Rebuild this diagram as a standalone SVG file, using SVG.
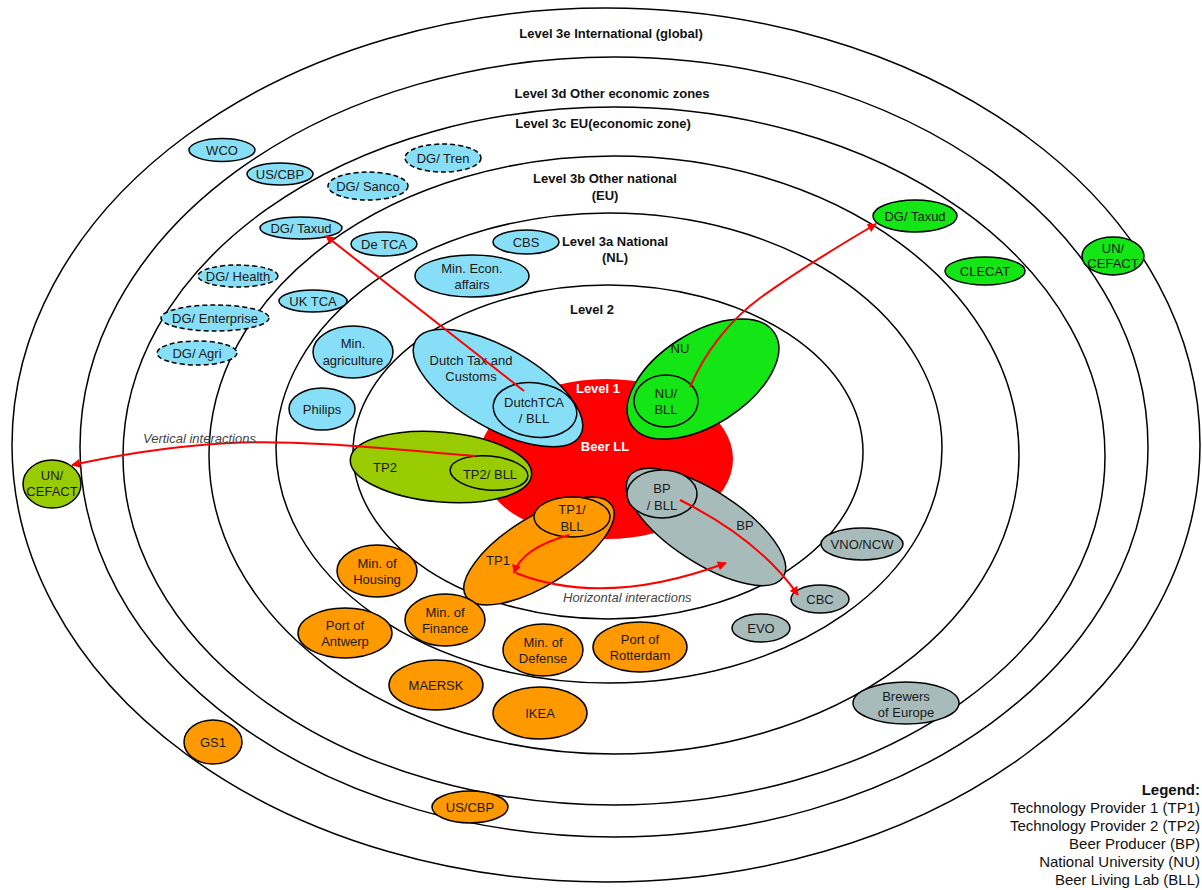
<svg xmlns="http://www.w3.org/2000/svg" width="1202" height="890" viewBox="0 0 1202 890">
<style>
.ring{fill:none;stroke:#000;stroke-width:1.5}
.n{stroke:#000;stroke-width:1.5}
.d{stroke-dasharray:5,3}
.blue{fill:#87DEF7}
.green{fill:#14E514}
.yg{fill:#99CC00}
.org{fill:#FF9900}
.grey{fill:#A7BBBB}
.red{fill:#FF0000}
text{font-family:"Liberation Sans",Arial,sans-serif;font-size:13px;fill:#1a1a1a;text-anchor:middle;dominant-baseline:central}
.lvl{font-weight:bold;font-size:13px;fill:#111}
.wl{font-weight:bold;fill:#fff}
.it{font-style:italic;fill:#444;text-anchor:start}
.leg{font-size:15px;text-anchor:end;dominant-baseline:auto;fill:#111}
.conn{fill:none;stroke:#FF0000;stroke-width:2}
</style>
<defs>
<marker id="ah" viewBox="0 0 10 10" refX="9" refY="5" markerWidth="10" markerHeight="9" markerUnits="userSpaceOnUse" orient="auto">
<path d="M0,0 L10,5 L0,10 z" fill="#FF0000"/>
</marker>
</defs>
<rect width="1202" height="890" fill="#fff"/>
<g id="rings">
<ellipse class="ring" cx="606" cy="445" rx="594" ry="437"/>
<ellipse class="ring" cx="614" cy="447" rx="534" ry="390"/>
<ellipse class="ring" cx="614" cy="456" rx="491" ry="349"/>
<ellipse class="ring" cx="614" cy="455" rx="405" ry="299"/>
<ellipse class="ring" cx="609" cy="448" rx="333" ry="235"/>
<ellipse class="ring" cx="608" cy="452" rx="255" ry="167"/>
</g>
<g id="level-labels">
<text class="lvl" x="611" y="33">Level 3e International (global)</text>
<text class="lvl" x="612" y="93">Level 3d Other economic zones</text>
<text class="lvl" x="603" y="123">Level 3c EU(economic zone)</text>
<text class="lvl" x="605" y="178">Level 3b Other national</text>
<text class="lvl" x="605" y="195">(EU)</text>
<text class="lvl" x="615" y="241">Level 3a National</text>
<text class="lvl" x="615" y="257">(NL)</text>
<text class="lvl" x="592" y="309">Level 2</text>
</g>
<g id="beer-ll">
<ellipse class="red" cx="606" cy="459" rx="127" ry="80"/>
<text class="wl" x="598" y="388">Level 1</text>
<text class="wl" x="605" y="446">Beer LL</text>
</g>
<g id="dutch-tax">
<ellipse class="n blue" cx="498" cy="388" rx="95" ry="40" transform="rotate(30 498 388)"/>
<text x="471" y="360">Dutch Tax and</text>
<text x="471" y="376">Customs</text>
</g>
<g id="dutchtca-bll">
<ellipse class="n blue" cx="535" cy="410" rx="42" ry="27" transform="rotate(8 535 410)"/>
<text x="534" y="402">DutchTCA</text>
<text x="534" y="418">/ BLL</text>
</g>
<g id="nu">
<ellipse class="n green" cx="703" cy="379" rx="85" ry="46" transform="rotate(-32.6 703 379)"/>
<text x="680" y="348">NU</text>
</g>
<g id="nu-bll">
<ellipse class="n green" cx="666" cy="401" rx="32" ry="26"/>
<text x="666" y="393">NU/</text>
<text x="666" y="409">BLL</text>
</g>
<g id="tp2">
<ellipse class="n yg" cx="441" cy="467" rx="91" ry="35" transform="rotate(5 441 467)"/>
<text x="385" y="467">TP2</text>
</g>
<g id="tp2-bll">
<ellipse class="n yg" cx="489" cy="473" rx="39" ry="17" transform="rotate(5 489 473)"/>
<text x="490" y="474">TP2/ BLL</text>
</g>
<g id="bp">
<ellipse class="n grey" cx="706" cy="527" rx="92" ry="36" transform="rotate(33 706 527)"/>
<text x="745" y="525">BP</text>
</g>
<g id="bp-bll">
<ellipse class="n grey" cx="662" cy="494" rx="35" ry="24"/>
<text x="662" y="488">BP</text>
<text x="662" y="505">/ BLL</text>
</g>
<g id="tp1">
<ellipse class="n org" cx="539" cy="551" rx="86" ry="34" transform="rotate(-32 539 551)"/>
<text x="498" y="560">TP1</text>
</g>
<g id="tp1-bll">
<ellipse class="n org" cx="572" cy="517" rx="38" ry="20"/>
<text x="572" y="509">TP1/</text>
<text x="572" y="526">BLL</text>
</g>
<g id="wco"><ellipse class="n blue" cx="222" cy="150" rx="33" ry="11.5"/><text x="222" y="150">WCO</text></g>
<g id="us-cbp-blue"><ellipse class="n blue" cx="280" cy="174" rx="33" ry="11"/><text x="280" y="174">US/CBP</text></g>
<g id="dg-tren"><ellipse class="n d blue" cx="443" cy="158" rx="38" ry="14"/><text x="443" y="158">DG/ Tren</text></g>
<g id="dg-sanco"><ellipse class="n d blue" cx="368" cy="186" rx="40" ry="14"/><text x="368" y="186">DG/ Sanco</text></g>
<g id="dg-taxud-blue"><ellipse class="n blue" cx="301" cy="228" rx="41" ry="11"/><text x="301" y="228">DG/ Taxud</text></g>
<g id="de-tca"><ellipse class="n blue" cx="384" cy="244" rx="33" ry="12"/><text x="384" y="244">De TCA</text></g>
<g id="cbs"><ellipse class="n blue" cx="526" cy="242" rx="33" ry="12"/><text x="526" y="242">CBS</text></g>
<g id="min-econ"><ellipse class="n blue" cx="472" cy="276" rx="57" ry="21"/><text x="472" y="268">Min. Econ.</text><text x="472" y="284">affairs</text></g>
<g id="dg-health"><ellipse class="n d blue" cx="238" cy="276" rx="40" ry="11"/><text x="238" y="276">DG/ Health</text></g>
<g id="uk-tca"><ellipse class="n blue" cx="313" cy="301" rx="34" ry="11"/><text x="313" y="301">UK TCA</text></g>
<g id="dg-enterprise"><ellipse class="n d blue" cx="215" cy="318" rx="54" ry="13"/><text x="215" y="318">DG/ Enterprise</text></g>
<g id="dg-agri"><ellipse class="n d blue" cx="197" cy="353" rx="40" ry="12"/><text x="197" y="353">DG/ Agri</text></g>
<g id="min-agri"><ellipse class="n blue" cx="353" cy="352" rx="40" ry="26"/><text x="353" y="343">Min.</text><text x="353" y="360">agriculture</text></g>
<g id="philips"><ellipse class="n blue" cx="322" cy="409" rx="33" ry="21"/><text x="322" y="409">Philips</text></g>
<g id="un-cefact-left"><ellipse class="n yg" cx="52" cy="484" rx="29" ry="24"/><text x="52" y="475">UN/</text><text x="52" y="491">CEFACT</text></g>
<g id="dg-taxud-green"><ellipse class="n green" cx="915" cy="216" rx="42" ry="16"/><text x="915" y="216">DG/ Taxud</text></g>
<g id="clecat"><ellipse class="n green" cx="985" cy="271" rx="40" ry="14"/><text x="985" y="271">CLECAT</text></g>
<g id="un-cefact-right"><ellipse class="n green" cx="1113" cy="256" rx="31" ry="19"/><text x="1113" y="248">UN/</text><text x="1113" y="263">CEFACT</text></g>
<g id="vno-ncw"><ellipse class="n grey" cx="862" cy="544" rx="41" ry="16"/><text x="862" y="544">VNO/NCW</text></g>
<g id="cbc"><ellipse class="n grey" cx="820" cy="599" rx="29" ry="14"/><text x="820" y="599">CBC</text></g>
<g id="evo"><ellipse class="n grey" cx="761" cy="628" rx="29" ry="14"/><text x="761" y="628">EVO</text></g>
<g id="brewers"><ellipse class="n grey" cx="906" cy="703" rx="53" ry="21"/><text x="906" y="696">Brewers</text><text x="906" y="712">of Europe</text></g>
<g id="min-housing"><ellipse class="n org" cx="377" cy="571" rx="40" ry="26"/><text x="377" y="563">Min. of</text><text x="377" y="579">Housing</text></g>
<g id="port-antwerp"><ellipse class="n org" cx="345" cy="633" rx="47" ry="25"/><text x="345" y="625">Port of</text><text x="345" y="641">Antwerp</text></g>
<g id="min-finance"><ellipse class="n org" cx="445" cy="620" rx="40" ry="26"/><text x="445" y="612">Min. of</text><text x="445" y="628">Finance</text></g>
<g id="min-defense"><ellipse class="n org" cx="543" cy="650" rx="40" ry="26"/><text x="543" y="642">Min. of</text><text x="543" y="658">Defense</text></g>
<g id="port-rotterdam"><ellipse class="n org" cx="640" cy="647" rx="47" ry="25"/><text x="640" y="639">Port of</text><text x="640" y="655">Rotterdam</text></g>
<g id="maersk"><ellipse class="n org" cx="436" cy="685" rx="47" ry="25"/><text x="436" y="685">MAERSK</text></g>
<g id="ikea"><ellipse class="n org" cx="540" cy="713" rx="47" ry="26"/><text x="540" y="713">IKEA</text></g>
<g id="gs1"><ellipse class="n org" cx="213" cy="742" rx="29" ry="22"/><text x="213" y="742">GS1</text></g>
<g id="us-cbp-orange"><ellipse class="n org" cx="470" cy="807" rx="38" ry="16"/><text x="470" y="807">US/CBP</text></g>
<g id="connectors">
<path class="conn" d="M524,391 L326,236" marker-end="url(#ah)"/>
<path class="conn" d="M690,387 C705,352 730,320 760,298 C792,275 835,248 876,224" marker-end="url(#ah)"/>
<path class="conn" d="M475,456 C400,450 300,439 230,443 C160,447 110,457 72,465" marker-end="url(#ah)"/>
<path class="conn" d="M680,500 Q760,540 798,595" marker-end="url(#ah)"/>
<path class="conn" d="M569,535 Q522,548 514,573" marker-end="url(#ah)"/>
<path class="conn" d="M516,573 Q605,608 726,563" marker-end="url(#ah)"/>
<text class="it" x="143" y="438">Vertical interactions</text>
<text class="it" x="563" y="597">Horizontal interactions</text>
</g>
<g id="legend">
<text class="leg" x="1200" y="795" font-weight="bold">Legend:</text>
<text class="leg" x="1200" y="813">Technology Provider 1 (TP1)</text>
<text class="leg" x="1200" y="831">Technology Provider 2 (TP2)</text>
<text class="leg" x="1200" y="849">Beer Producer (BP)</text>
<text class="leg" x="1200" y="867">National University (NU)</text>
<text class="leg" x="1200" y="885">Beer Living Lab (BLL)</text>
</g>
</svg>
